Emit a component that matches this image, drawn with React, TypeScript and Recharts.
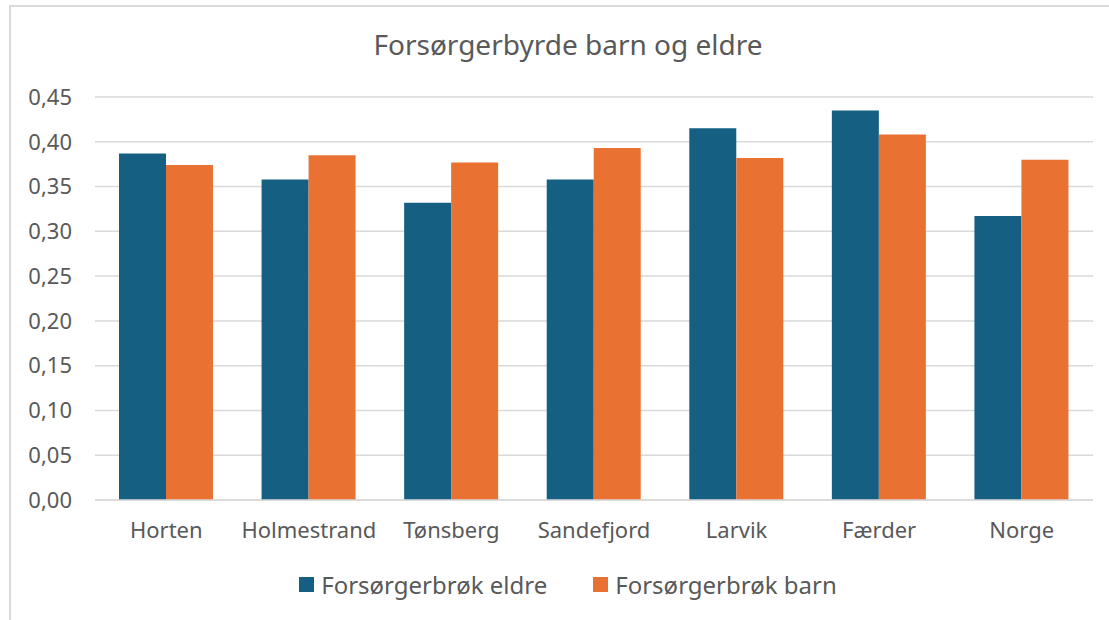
import React from 'react'
import { BarChart, Bar, XAxis, YAxis, CartesianGrid, Legend } from 'recharts'

const kommuner = ['Horten', 'Holmestrand', 'Tønsberg', 'Sandefjord', 'Larvik', 'Færder', 'Norge']
const eldre = [0.387, 0.358, 0.332, 0.358, 0.415, 0.435, 0.317]
const barn = [0.374, 0.385, 0.377, 0.393, 0.382, 0.408, 0.38]
const yTicks = [0, 0.05, 0.1, 0.15, 0.2, 0.25, 0.3, 0.35, 0.4, 0.45]

const data = kommuner.map((navn, i) => ({ navn, eldre: eldre[i], barn: barn[i] }))

const BLUE = '#156082'
const ORANGE = '#E97132'
const TEXT = '#595959'
const FONT = '"Noto Sans", sans-serif'

const LegendContent = () => (
  <div style={{ display: 'flex', justifyContent: 'center', alignItems: 'center', height: 30, fontFamily: FONT, fontSize: 24, color: TEXT }}>
    <span style={{ width: 15, height: 15, background: BLUE, display: 'inline-block', marginRight: 7 }} />
    <span style={{ marginRight: 46 }}>Forsørgerbrøk eldre</span>
    <span style={{ width: 15, height: 15, background: ORANGE, display: 'inline-block', marginRight: 7 }} />
    <span>Forsørgerbrøk barn</span>
  </div>
)

const App = () => {
  return (
    <div style={{ position: 'absolute', left: 0, top: 0, width: 1109, height: 620, background: '#fff', overflow: 'hidden' }}>
      <div style={{ position: 'absolute', left: 9, top: 5, width: 1200, height: 700, borderTop: '2px solid #d9d9d9', borderLeft: '2px solid #d9d9d9' }} />
      <div style={{ position: 'absolute', left: 0, top: 24, width: 1136, textAlign: 'center', fontFamily: FONT, fontSize: 28, color: TEXT, lineHeight: '40px' }}>
        Forsørgerbyrde barn og eldre
      </div>
      <BarChart
        width={1109}
        height={620}
        data={data}
        margin={{ top: 97, right: 16, left: 0, bottom: 50 }}
        barCategoryGap={24}
        barGap={0}
        style={{ position: 'absolute', left: 0, top: 0 }}
      >
        <CartesianGrid vertical={false} stroke="#d9d9d9" strokeWidth={1.5} />
        <XAxis
          dataKey="navn"
          height={40}
          tickLine={false}
          axisLine={{ stroke: '#d9d9d9', strokeWidth: 1.5 }}
          tickSize={0}
          tickMargin={22}
          tick={{ fill: TEXT, fontSize: 22, fontFamily: FONT }}
          interval={0}
        />
        <YAxis
          width={95}
          domain={[0, 0.45]}
          ticks={yTicks}
          interval={0}
          axisLine={false}
          tickLine={false}
          tickSize={0}
          tickMargin={23}
          tick={{ fill: TEXT, fontSize: 22, fontFamily: FONT }}
          tickFormatter={(v: number) => v.toFixed(2).replace('.', ',')}
        />
        <Legend verticalAlign="bottom" content={<LegendContent />} wrapperStyle={{ left: 0, width: 1136, bottom: 21 }} />
        <Bar dataKey="eldre" name="Forsørgerbrøk eldre" fill={BLUE} isAnimationActive={false} />
        <Bar dataKey="barn" name="Forsørgerbrøk barn" fill={ORANGE} isAnimationActive={false} />
      </BarChart>
    </div>
  )
}

export default App
